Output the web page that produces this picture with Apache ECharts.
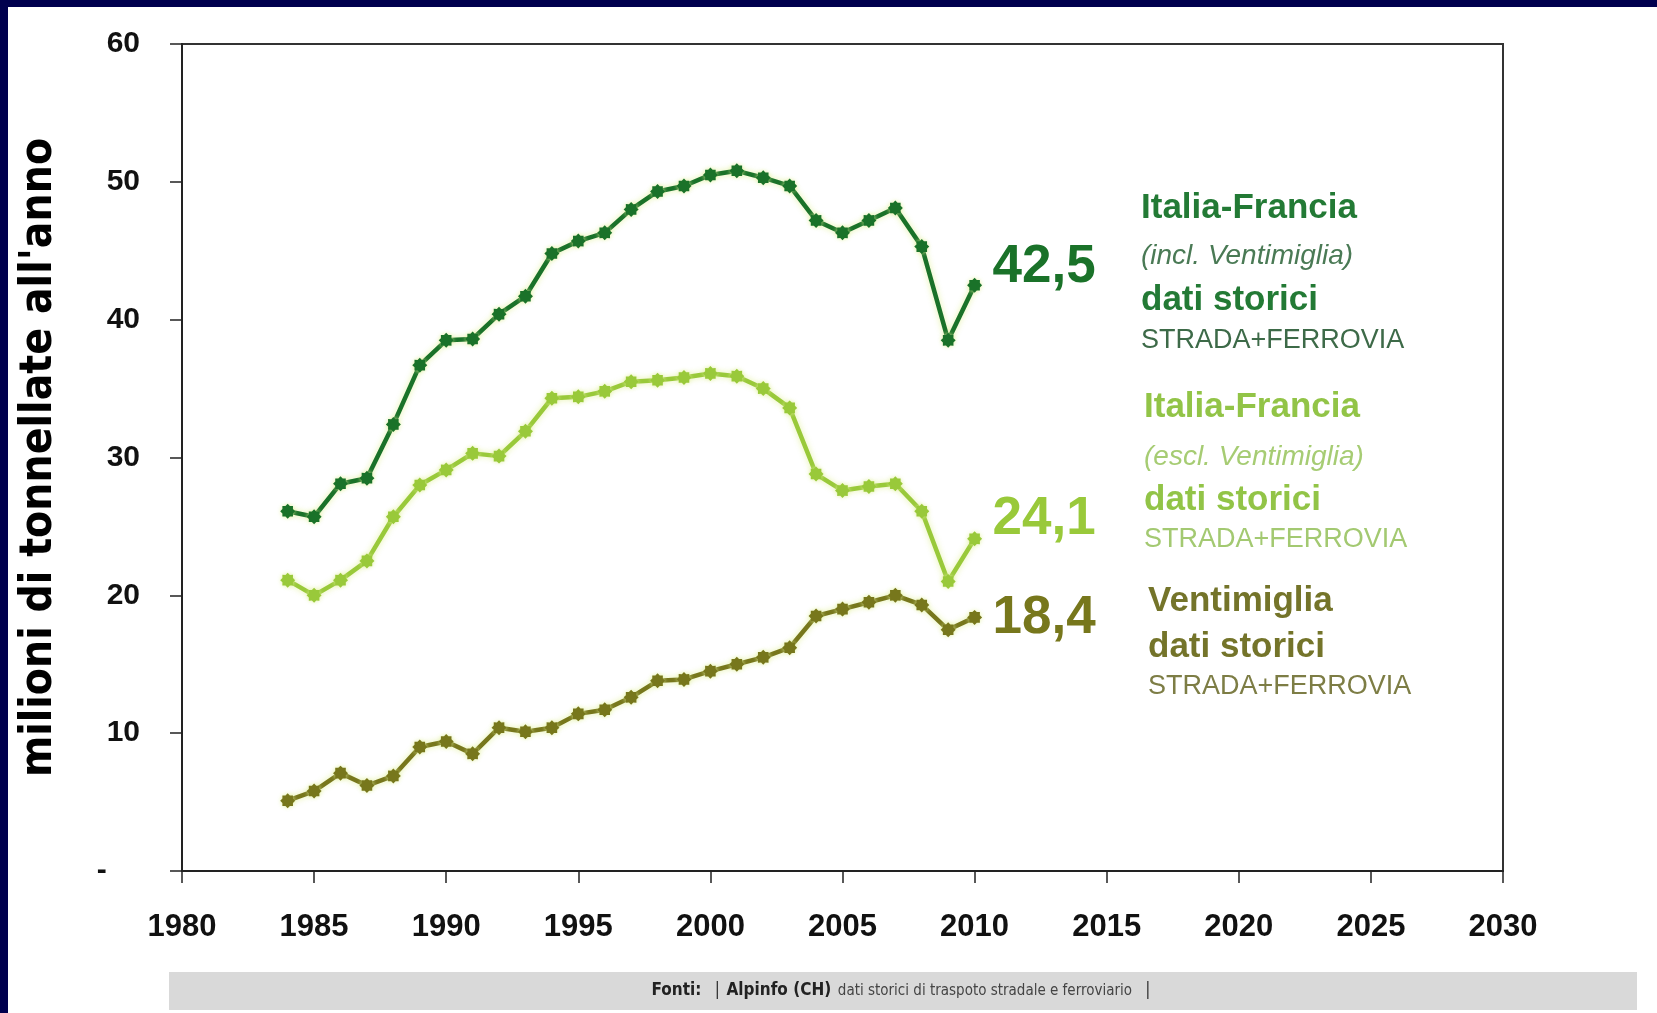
<!DOCTYPE html>
<html>
<head>
<meta charset="utf-8">
<script src="https://cdn.jsdelivr.net/npm/echarts@6/dist/echarts.min.js"></script>
<style>
html,body{margin:0;padding:0;background:#fff;}
#chart{width:1657px;height:1013px;}
</style>
</head>
<body>
<div id="chart"></div>
<script>
const years = [1984,1985,1986,1987,1988,1989,1990,1991,1992,1993,1994,1995,1996,1997,1998,1999,2000,2001,2002,2003,2004,2005,2006,2007,2008,2009,2010];
const inclVentimiglia = [26.1,25.7,28.1,28.5,32.4,36.7,38.5,38.6,40.4,41.7,44.8,45.7,46.3,48.0,49.3,49.7,50.5,50.8,50.3,49.7,47.2,46.3,47.2,48.1,45.3,38.5,42.5];
const esclVentimiglia = [21.1,20.0,21.1,22.5,25.7,28.0,29.1,30.3,30.1,31.9,34.3,34.4,34.8,35.5,35.6,35.8,36.1,35.9,35.0,33.6,28.8,27.6,27.9,28.1,26.1,21.0,24.1];
const ventimiglia = [5.1,5.8,7.1,6.2,6.9,9.0,9.4,8.5,10.4,10.1,10.4,11.4,11.7,12.6,13.8,13.9,14.5,15.0,15.5,16.2,18.5,19.0,19.5,20.0,19.3,17.5,18.4];
const xTicks = {min:1980, max:2030, interval:5};
const yTicks = {min:0, max:60, interval:10};

const C_DARK = '#1a7229', C_LIGHT = '#99c93a', C_OLIVE = '#77771c';
const NARROW = "'Liberation Sans Narrow','DejaVu Sans Condensed',sans-serif";
const SANS = "'Liberation Sans',Arial,sans-serif";

// flower-like marker path
function flowerPath(){
  const n = 16; let d = '';
  for (let i=0;i<n;i++){
    const a = i/n*Math.PI*2;
    const r = (i%2===0)?50:38;
    const x = (50 + r*Math.cos(a)).toFixed(2), y = (50 + r*Math.sin(a)).toFixed(2);
    d += (i===0?'M':'L') + x + ' ' + y + ' ';
  }
  return 'path://' + d + 'Z';
}
const SYM = flowerPath();

const pairs = arr => years.map((y,i)=>[y,arr[i]]);

function mkSeries(name, arr, color, labOffset){
  return {
    name, type:'line', data:pairs(arr),
    symbol:SYM, symbolSize:15, showAllSymbol:true,
    lineStyle:{color, width:4.5, shadowColor:'rgba(225,240,150,0.85)', shadowBlur:6},
    itemStyle:{color, shadowColor:'rgba(225,240,150,0.85)', shadowBlur:4},
    endLabel:{show:true, distance:18, offset:labOffset, color,
      fontFamily:SANS, fontWeight:'bold', fontSize:53,
      formatter:p=>p.value[1].toFixed(1).replace('.',',')},
    emphasis:{disabled:true}
  };
}

const chart = echarts.init(document.getElementById('chart'), null, {renderer:'canvas'});

function txt(x,y,text,font,color){
  return {type:'text', x:x, y:y, silent:true,
    style:{text, font, fill:color, align:'left', verticalAlign:'middle'}};
}

chart.setOption({
  animation:false,
  backgroundColor:'#ffffff',
  grid:{left:182, right:154, top:44, bottom:142, show:true, borderColor:'#333', borderWidth:2, backgroundColor:'transparent'},
  xAxis:{type:'value', min:xTicks.min, max:xTicks.max, interval:xTicks.interval,
    axisLine:{lineStyle:{color:'#222', width:2}},
    axisTick:{show:true, length:12, lineStyle:{color:'#222', width:1.5}},
    splitLine:{show:false},
    axisLabel:{margin:41, color:'#111', fontFamily:SANS, fontWeight:'bold', fontSize:31, formatter:v=>String(v)}
  },
  yAxis:{type:'value', min:yTicks.min, max:yTicks.max, interval:yTicks.interval,
    name:"milioni di tonnellate all'anno", nameLocation:'middle', nameRotate:90, nameGap:120,
    nameTextStyle:{color:'#000', fontFamily:NARROW, fontWeight:'bold', fontSize:44},
    axisLine:{show:true, lineStyle:{color:'#222', width:2}},
    axisTick:{show:true, length:12, lineStyle:{color:'#222', width:1.5}},
    splitLine:{show:false},
    axisLabel:{margin:42, color:'#111', fontFamily:SANS, fontWeight:'bold', fontSize:30, formatter:v=>v===0?'-    ':String(v)}
  },
  series:[
    mkSeries('Italia-Francia (incl. Ventimiglia)', inclVentimiglia, C_DARK, [0,-18]),
    mkSeries('Italia-Francia (escl. Ventimiglia)', esclVentimiglia, C_LIGHT, [0,-19]),
    mkSeries('Ventimiglia', ventimiglia, C_OLIVE, [0,1])
  ],
  graphic:[
    {type:'rect', left:0, top:0, shape:{width:1657, height:7}, style:{fill:'#00004e'}, silent:true},
    {type:'rect', left:0, top:0, shape:{width:8, height:1013}, style:{fill:'#00004e'}, silent:true},
    {type:'rect', left:169, top:972, shape:{width:1468, height:38}, style:{fill:'#d9d9d9'}, silent:true},
    {type:'text', x:901, y:991, silent:true, style:{
      text:'{b|Fonti:}    {n||}  {b|Alpinfo (CH)}  {s|dati storici di traspoto stradale e ferroviario}    {n||}',
      align:'center', verticalAlign:'middle',
      rich:{
        b:{font:"bold 17px "+NARROW, fill:'#222'},
        n:{font:"17px "+NARROW, fill:'#333'},
        s:{font:"15px "+NARROW, fill:'#444'}
      }}},
    // block 1
    txt(1141,208,'Italia-Francia','bold 35px '+SANS,'#237a35'),
    txt(1141,256,'(incl. Ventimiglia)','italic 28px '+SANS,'#4a7a55'),
    txt(1141,300,'dati storici','bold 35px '+SANS,'#237a35'),
    txt(1141,341,'STRADA+FERROVIA','27px '+SANS,'#3d6a48'),
    // block 2
    txt(1144,407,'Italia-Francia','bold 35px '+SANS,'#92c447'),
    txt(1144,457,'(escl. Ventimiglia)','italic 28px '+SANS,'#a6cc73'),
    txt(1144,500,'dati storici','bold 35px '+SANS,'#92c447'),
    txt(1144,540,'STRADA+FERROVIA','27px '+SANS,'#a3c971'),
    // block 3
    txt(1148,601,'Ventimiglia','bold 35px '+SANS,'#74742a'),
    txt(1148,647,'dati storici','bold 35px '+SANS,'#74742a'),
    txt(1148,687,'STRADA+FERROVIA','27px '+SANS,'#7d7d45')
  ]
});
</script>
</body>
</html>
